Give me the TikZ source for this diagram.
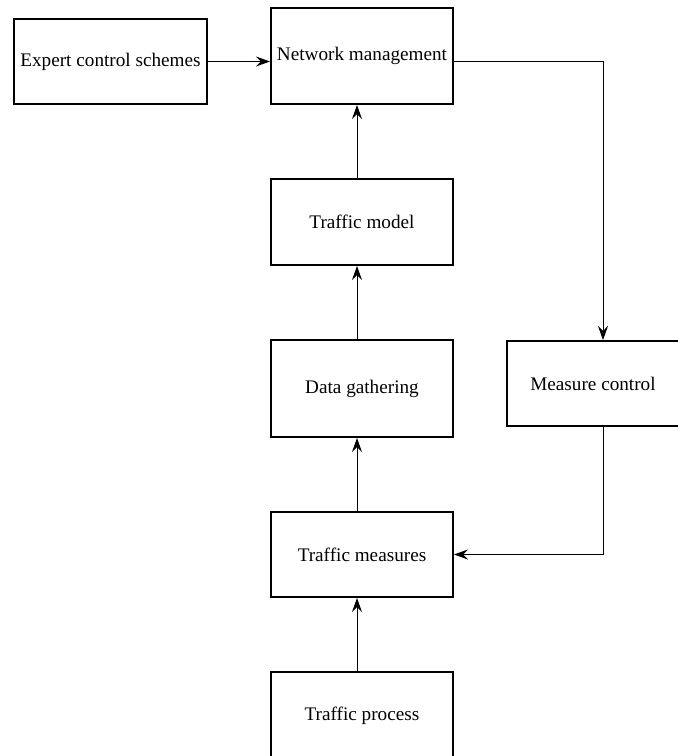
\documentclass[tikz,border=0pt]{standalone}
\usepackage{fontspec}
\setmainfont{Liberation Serif}
\usetikzlibrary{arrows.meta, calc}

\begin{document}
\begin{tikzpicture}[x=0.5pt, y=-0.5pt,
		block/.style = {draw, line width = 1pt, inner sep = 0pt, minimum width = 91pt, font = \fontsize{9.6}{11.5}\selectfont},
		link/.style = {line width = 0.5pt, -{Stealth[length = 7pt, width = 5pt, inset = 2.5pt]}}]
		\def\shift{-2.5pt};
		
		\useasboundingbox (0,0) rectangle (678,756);
		\clip (0,0) rectangle (678,756);
		
		\node [block, minimum width = 96.5pt, minimum height = 42.5pt] (expert) at (110.5,61.5) {Expert control schemes};
		\node [block, minimum height = 48pt] (network) at (362,56) {Network management};
		\node [block, minimum height = 43pt] (model) at (362,222) {Traffic model};
		\node [block, minimum height = 48.5pt] (data) at (362,388.5) {Data gathering};
		\node [block, minimum width = 86pt, minimum height = 42.5pt] (control) at (593,383.5) {Measure control};
		\node [block, minimum height = 42.5pt] (measures) at (362,554.5) {Traffic measures};
		\node [block, minimum height = 44pt] (process) at (362,716) {Traffic process};
		
		\coordinate (loop top) at ($ (expert.east -| control.north) + (10,0) $);
		
		\draw [link] (expert.east) -- (expert.east -| network.west);
		
		\draw [link] (expert.east -| network.east) -- (loop top) -- (loop top |- control.north);
		\draw [link] (loop top |- control.south) -- (loop top |- measures.east) -- (measures.east);
		
		\draw [link] ([xshift = \shift] process.north) -- ([xshift = \shift] measures.south);
		\draw [link] ([xshift = \shift] measures.north) -- ([xshift = \shift] data.south);
		\draw [link] ([xshift = \shift] data.north) -- ([xshift = \shift] model.south);
		\draw [link] ([xshift = \shift] model.north) -- ([xshift = \shift] network.south);
	\end{tikzpicture}
\end{document}
